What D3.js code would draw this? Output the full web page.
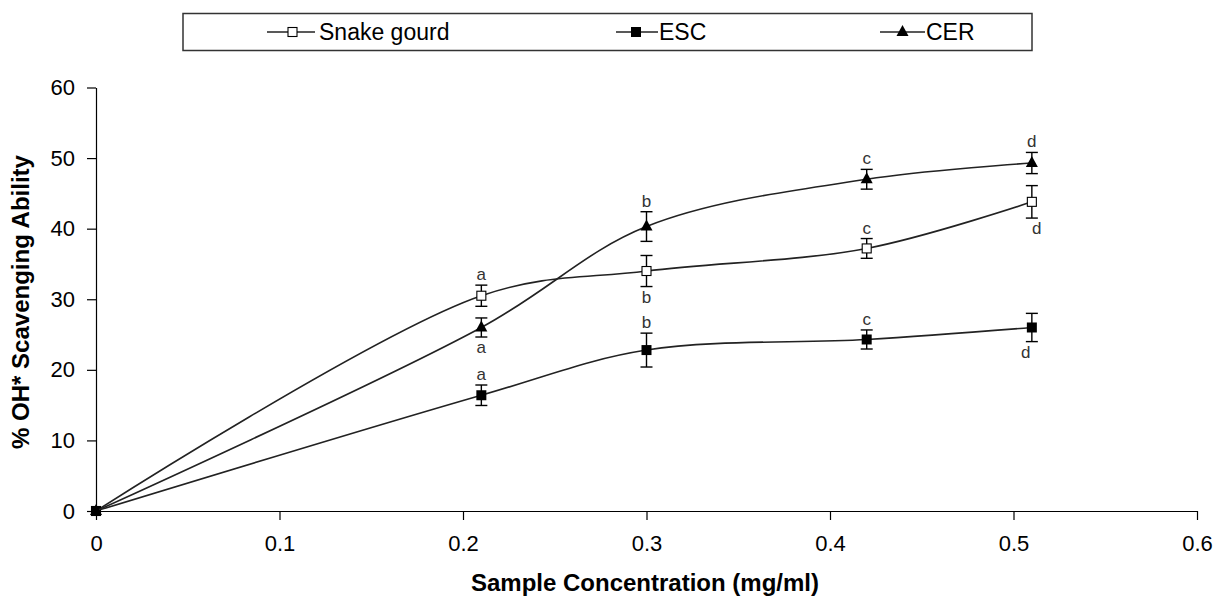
<!DOCTYPE html>
<html><head><meta charset="utf-8">
<script src="https://cdn.jsdelivr.net/npm/d3@7"></script>
<style>body{margin:0;background:#fff;} svg{display:block;font-family:"Liberation Sans",Arial,sans-serif;}</style>
</head><body>
<svg id="c" width="1217" height="597"></svg>
<script>
const xValues = [0, 0.21, 0.30, 0.42, 0.51];
const seriesNames = ["Snake gourd", "ESC", "CER"];
const snakeGourd = [0, 30.5, 34.0, 37.2, 43.8];
const snakeErr = [0, 1.5, 2.2, 1.4, 2.3];
const snakeLetters = ["", "a", "b", "c", "d"];
const snakeLetterPos = ["", "above", "below", "above", "below"];
const esc = [0, 16.4, 22.8, 24.3, 26.0];
const escErr = [0, 1.45, 2.4, 1.35, 2.0];
const escLetters = ["", "a", "b", "c", "d"];
const escLetterPos = ["", "above", "above", "above", "below"];
const cer = [0, 26.0, 40.3, 47.0, 49.3];
const cerErr = [0, 1.35, 2.1, 1.4, 1.5];
const cerLetters = ["", "a", "b", "c", "d"];
const cerLetterPos = ["", "below", "above", "above", "above"];
const xTicks = [0, 0.1, 0.2, 0.3, 0.4, 0.5, 0.6];
const yTicks = [0, 10, 20, 30, 40, 50, 60];

const series = [
  {name: seriesNames[0], vals: snakeGourd, err: snakeErr, letters: snakeLetters, pos: snakeLetterPos, marker: "openSquare", ldx: [0,0,0,0,5]},
  {name: seriesNames[1], vals: esc, err: escErr, letters: escLetters, pos: escLetterPos, marker: "square", ldx: [0,0,0,0,-6]},
  {name: seriesNames[2], vals: cer, err: cerErr, letters: cerLetters, pos: cerLetterPos, marker: "triangle", ldx: [0,0,0,0,0]}
];

const svg = d3.select("#c");
const x = d3.scaleLinear().domain([0, 0.6]).range([96, 1197]);
const y = d3.scaleLinear().domain([0, 60]).range([511, 87.5]);

// axes
const xAxis = svg.append("g").attr("transform", "translate(0,511)")
  .call(d3.axisBottom(x).tickValues(xTicks).tickFormat(d => d3.format("")(+d.toFixed(1))).tickSize(9).tickSizeOuter(0).tickPadding(15));
const yAxis = svg.append("g").attr("transform", "translate(96,0)")
  .call(d3.axisLeft(y).tickValues(yTicks).tickSize(9).tickSizeOuter(0).tickPadding(12));
[xAxis, yAxis].forEach(a => {
  a.select(".domain").attr("stroke", "#000").attr("stroke-width", 1.2);
  a.selectAll(".tick line").attr("stroke", "#000").attr("stroke-width", 1.2);
  a.selectAll(".tick text").attr("font-size", 22).attr("fill", "#000").attr("font-family", "Liberation Sans, Arial, sans-serif");
});

svg.append("text").attr("x", 645).attr("y", 591).attr("text-anchor", "middle")
  .attr("font-size", 24).attr("font-weight", "bold").text("Sample Concentration (mg/ml)");
svg.append("text").attr("transform", "translate(29,302) rotate(-90)").attr("text-anchor", "middle")
  .attr("font-size", 24).attr("font-weight", "bold").text("% OH* Scavenging Ability");

const line = d3.line().x((d,i) => x(xValues[i])).y(d => y(d)).curve(d3.curveCatmullRom.alpha(0.5));

function drawMarker(g, type, cx, cy) {
  if (type === "openSquare") {
    g.append("rect").attr("x", cx-4.5).attr("y", cy-4.5).attr("width", 9).attr("height", 9)
      .attr("fill", "#fff").attr("stroke", "#000").attr("stroke-width", 1.1);
  } else if (type === "square") {
    g.append("rect").attr("x", cx-5).attr("y", cy-5).attr("width", 10).attr("height", 10).attr("fill", "#000");
  } else {
    g.append("path").attr("d", `M${cx},${cy-7}L${cx+6},${cy+4}L${cx-6},${cy+4}Z`).attr("fill", "#000");
  }
}

series.forEach(s => {
  const g = svg.append("g");
  g.append("path").datum(s.vals).attr("d", line).attr("fill", "none").attr("stroke", "#222").attr("stroke-width", 1.6);
  s.vals.forEach((v, i) => {
    const cx = x(xValues[i]);
    if (s.err[i] > 0) {
      const yt = y(v + s.err[i]), yb = y(v - s.err[i]);
      g.append("line").attr("x1", cx).attr("x2", cx).attr("y1", yt).attr("y2", yb).attr("stroke", "#000").attr("stroke-width", 1.4);
      [yt, yb].forEach(yy => g.append("line").attr("x1", cx-6).attr("x2", cx+6).attr("y1", yy).attr("y2", yy).attr("stroke", "#000").attr("stroke-width", 1.4));
    }
  });
  s.vals.forEach((v, i) => drawMarker(g, s.marker, x(xValues[i]), y(v)));
  s.vals.forEach((v, i) => {
    if (!s.letters[i]) return;
    const cx = x(xValues[i]) + s.ldx[i];
    const ly = s.pos[i] === "above" ? y(v + s.err[i]) - 5 : y(v - s.err[i]) + 16;
    g.append("text").attr("x", cx).attr("y", ly).attr("text-anchor", "middle").attr("font-size", 17).attr("fill", "#333").text(s.letters[i]);
  });
});

// legend
const lg = svg.append("g");
lg.append("rect").attr("x", 183).attr("y", 13.5).attr("width", 849).attr("height", 37).attr("fill", "#fff").attr("stroke", "#333").attr("stroke-width", 1.5);
const legendPos = [{x1: 267, x2: 315, mx: 292.5, tx: 319}, {x1: 616, x2: 658, mx: 636, tx: 659}, {x1: 880, x2: 925, mx: 902.5, tx: 926}];
series.forEach((s, i) => {
  const p = legendPos[i];
  lg.append("line").attr("x1", p.x1).attr("x2", p.x2).attr("y1", 32).attr("y2", 32).attr("stroke", "#222").attr("stroke-width", 1.4);
  drawMarker(lg, s.marker, p.mx, 32);
  lg.append("text").attr("x", p.tx).attr("y", 40).attr("font-size", 23).attr("fill", "#000").text(s.name);
});
</script>
</body></html>
